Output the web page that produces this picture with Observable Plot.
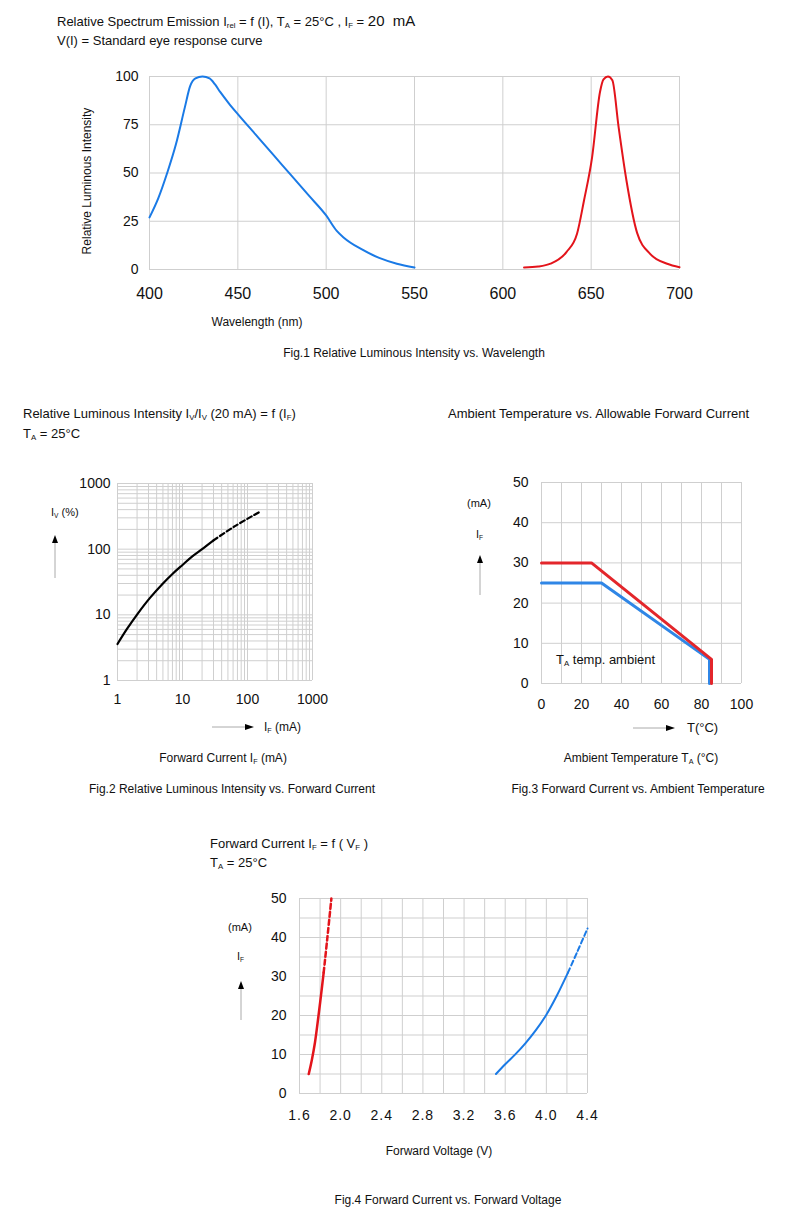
<!DOCTYPE html>
<html><head><meta charset="utf-8">
<script src="https://cdn.jsdelivr.net/npm/d3@7"></script>
<script src="https://cdn.jsdelivr.net/npm/@observablehq/plot@0.6"></script>
<style>
body{margin:0;background:#fff;}
#page{position:relative;width:807px;height:1221px;background:#fff;font-family:"Liberation Sans",Arial,Helvetica,sans-serif;color:#111;overflow:hidden}
.t{position:absolute;white-space:nowrap;line-height:1;color:#111}
.t sub{font-size:0.6em;vertical-align:baseline;position:relative;top:0.3em}
.p{position:absolute}
</style></head><body><div id="page"></div>
<script>
// ---------- data ----------
// Fig.1 relative spectrum
const fig1BlueWl  = [400,405,410,415,420,423,426,430,434,437,440,445,450,460,470,480,490,500,506,510,520,530,540,550];
const fig1BlueVal = [27,37,50,65,84,95,99,100,99,96,92,86,80.5,70,59.5,49,38.5,28,20,16.5,10.5,6,3,1];
const fig1RedWl   = [612,620,627,636,642,646,650.5,655,657,659.5,662,665.5,670,676,683.5,693,700];
const fig1RedVal  = [1,1.5,3,9,18.5,36,58,92,98.5,100,98,74,46,19,8,3,1.2];
const fig1XTicks  = [400,450,500,550,600,650,700];
const fig1YTicks  = [0,25,50,75,100];
// Fig.2 relative luminous intensity vs forward current
const fig2IfSolid = [1,1.4,2,3.16,5,7,10,14,20,30];
const fig2IvSolid = [3.6,6.1,10.1,18.1,30,41.9,57.5,77,100,136];
const fig2IfDash  = [30,63,158];
const fig2IvDash  = [136,222,375];
const fig2Ticks   = [1,10,100,1000];
// Fig.3 forward current vs ambient temperature
const fig3RedT  = [0,25,85,85];
const fig3RedI  = [30,30,6,0];
const fig3BlueT = [0,30,84,84];
const fig3BlueI = [25,25,6,0];
const fig3XTicks = [0,20,40,60,80,100];
const fig3XGrid  = [0,10,20,30,40,50,60,70,80,90,100];
const fig3YTicks = [0,10,20,30,40,50];
// Fig.4 forward current vs forward voltage
const fig4RedSolidV  = [1.69,1.72,1.75,1.785,1.81,1.835];
const fig4RedSolidI  = [5,8.6,13,20,25.4,31];
const fig4RedDashV   = [1.835,1.87,1.91];
const fig4RedDashI   = [31,39.7,50];
const fig4BlueSolidV = [3.51,3.6,3.7,3.8,3.9,4.0,4.1,4.21];
const fig4BlueSolidI = [5,7.5,10.1,13,16.3,20.2,25,31];
const fig4BlueDashV  = [4.21,4.3,4.4];
const fig4BlueDashI  = [31,36.3,42.3];
const fig4XTicks = [1.6,2.0,2.4,2.8,3.2,3.6,4.0,4.4];
const fig4XGrid  = [1.6,1.8,2.0,2.2,2.4,2.6,2.8,3.0,3.2,3.4,3.6,3.8,4.0,4.2,4.4];
const fig4YTicks = [0,10,20,30,40,50];
const fig4YGrid  = [0,5,10,15,20,25,30,35,40,45,50];

// ---------- helpers ----------
const FONT = '"Liberation Sans", Arial, Helvetica, sans-serif';
const GRID = "#cfcfcf";
const page = document.getElementById("page");
const pts = (xs, ys) => xs.map((x, i) => ({x, y: ys[i]}));

function place(svg, left, top) {
  svg.classList.add("p");
  svg.style.left = left + "px";
  svg.style.top = top + "px";
  page.appendChild(svg);
}
function txt(html, x, y, size, anchor = "start", rotate = 0) {
  const d = document.createElement("div");
  d.className = "t";
  d.innerHTML = html;
  d.style.fontSize = size + "px";
  d.style.left = x + "px";
  d.style.top = y + "px";
  const tx = anchor === "middle" ? "-50%" : anchor === "end" ? "-100%" : "0";
  d.style.transform = rotate ? `translate(-50%,-50%) rotate(${rotate}deg)` : `translate(${tx},-55%)`;
  page.appendChild(d);
}
function tickFont(svg, axis, size) {
  const g = svg.querySelector(`g[aria-label="${axis}-axis tick label"]`);
  if (g) g.setAttribute("font-size", size);
  svg.querySelectorAll(`g[aria-label="${axis}-axis tick label"] text`).forEach(t => t.setAttribute("font-size", size));
}

// ---------- Fig.1 ----------
const fig1 = Plot.plot({
  width: 720, height: 250,
  marginLeft: 149, marginRight: 41, marginTop: 16, marginBottom: 41,
  style: {fontFamily: FONT, fontSize: "14px", color: "#111", background: "transparent"},
  x: {domain: [400, 700]},
  y: {domain: [0, 100]},
  marks: [
    Plot.ruleX(fig1XTicks, {stroke: GRID}),
    Plot.ruleY(fig1YTicks, {stroke: GRID}),
    Plot.axisX({ticks: fig1XTicks, tickSize: 0, tickPadding: 18, label: null}),
    Plot.axisY({ticks: fig1YTicks, tickSize: 0, tickPadding: 11, label: null}),
    Plot.line(pts(fig1BlueWl, fig1BlueVal), {x: "x", y: "y", stroke: "#1a7ae6", strokeWidth: 2, curve: "monotone-x"}),
    Plot.line(pts(fig1RedWl, fig1RedVal), {x: "x", y: "y", stroke: "#e3141b", strokeWidth: 2, curve: "monotone-x"})
  ]
});
tickFont(fig1, "x", 16);
place(fig1, 0, 60);
txt('Relative Spectrum Emission I<sub>rel</sub> = f (I), T<sub>A</sub> = 25°C , I<sub>F</sub> = <span style="font-size:15px">20 &nbsp;mA</span>', 57, 21, 13);
txt('V(I) = Standard eye response curve', 57, 41, 13);
txt('Relative Luminous Intensity', 87, 181, 12, "middle", -90);
txt('Wavelength (nm)', 257, 323, 12, "middle");
txt('Fig.1 Relative Luminous Intensity vs. Wavelength', 414, 354, 12, "middle");

// ---------- Fig.2 ----------
const fig2Grid = d3.scaleLog().domain([1, 1000]).ticks();
const fig2 = Plot.plot({
  width: 340, height: 240,
  marginLeft: 117, marginRight: 28, marginTop: 13, marginBottom: 30,
  style: {fontFamily: FONT, fontSize: "14px", color: "#111", background: "transparent"},
  x: {type: "log", domain: [1, 1000]},
  y: {type: "log", domain: [1, 1000]},
  marks: [
    Plot.ruleX(fig2Grid, {stroke: GRID}),
    Plot.ruleY(fig2Grid, {stroke: GRID}),
    Plot.axisX({ticks: fig2Ticks, tickFormat: d3.format("d"), tickSize: 0, tickPadding: 14, label: null}),
    Plot.axisY({ticks: fig2Ticks, tickFormat: d3.format("d"), tickSize: 0, tickPadding: 7, label: null}),
    Plot.line(pts(fig2IfSolid, fig2IvSolid), {x: "x", y: "y", stroke: "#000", strokeWidth: 2.2, curve: "catmull-rom"}),
    Plot.line(pts(fig2IfDash, fig2IvDash), {x: "x", y: "y", stroke: "#000", strokeWidth: 2.2, strokeDasharray: "5,3", curve: "catmull-rom"})
  ]
});
place(fig2, 0, 470);
txt('Relative Luminous Intensity I<sub>V</sub>/I<sub>V</sub> (20 mA) = f (I<sub>F</sub>)', 23, 414, 13);
txt('T<sub>A</sub> = 25°C', 23, 434, 13);
txt('I<sub>V</sub> (%)', 51, 513, 11);
txt('I<sub>F</sub> (mA)', 264, 728, 12);
txt('Forward Current I<sub>F</sub> (mA)', 223, 759, 12, "middle");
txt('Fig.2 Relative Luminous Intensity vs. Forward Current', 232, 790, 12, "middle");

// ---------- Fig.3 ----------
const fig3 = Plot.plot({
  width: 300, height: 250,
  marginLeft: 71, marginRight: 29, marginTop: 17, marginBottom: 32,
  style: {fontFamily: FONT, fontSize: "14px", color: "#111", background: "transparent"},
  x: {domain: [0, 100]},
  y: {domain: [0, 50]},
  marks: [
    Plot.ruleX(fig3XGrid, {stroke: GRID}),
    Plot.ruleY(fig3YTicks, {stroke: GRID}),
    Plot.axisX({ticks: fig3XTicks, tickSize: 0, tickPadding: 16, label: null}),
    Plot.axisY({ticks: fig3YTicks, tickSize: 0, tickPadding: 13, label: null}),
    Plot.line(pts(fig3BlueT, fig3BlueI), {x: "x", y: "y", stroke: "#2f86e6", strokeWidth: 3}),
    Plot.line(pts(fig3RedT, fig3RedI), {x: "x", y: "y", stroke: "#e3262b", strokeWidth: 3})
  ]
});
place(fig3, 470, 465);
txt('Ambient Temperature vs. Allowable Forward Current', 448, 414, 13);
txt('(mA)', 467, 504, 11);
txt('I<sub>F</sub>', 476, 535, 11);
txt('T<sub>A</sub> temp. ambient', 556, 660, 13);
txt('T(°C)', 687, 728, 13);
txt('Ambient Temperature T<sub>A</sub> (°C)', 641, 759, 12, "middle");
txt('Fig.3 Forward Current vs. Ambient Temperature', 638, 790, 12, "middle");

// ---------- Fig.4 ----------
const fig4 = Plot.plot({
  width: 420, height: 250,
  marginLeft: 99, marginRight: 33, marginTop: 13, marginBottom: 42,
  style: {fontFamily: FONT, fontSize: "14px", color: "#111", background: "transparent"},
  x: {domain: [1.6, 4.4]},
  y: {domain: [0, 50]},
  marks: [
    Plot.ruleX(fig4XGrid, {stroke: GRID}),
    Plot.ruleY(fig4YGrid, {stroke: GRID}),
    Plot.axisX({ticks: fig4XTicks, tickFormat: d3.format(".1f"), tickSize: 0, tickPadding: 17, label: null}),
    Plot.axisY({ticks: fig4YTicks, tickSize: 0, tickPadding: 13, label: null}),
    Plot.line(pts(fig4RedSolidV, fig4RedSolidI), {x: "x", y: "y", stroke: "#e3141b", strokeWidth: 2.5, curve: "catmull-rom"}),
    Plot.line(pts(fig4RedDashV, fig4RedDashI), {x: "x", y: "y", stroke: "#e3141b", strokeWidth: 2.5, strokeDasharray: "5,3", curve: "catmull-rom"}),
    Plot.line(pts(fig4BlueSolidV, fig4BlueSolidI), {x: "x", y: "y", stroke: "#1a7ae6", strokeWidth: 2, curve: "catmull-rom"}),
    Plot.line(pts(fig4BlueDashV, fig4BlueDashI), {x: "x", y: "y", stroke: "#1a7ae6", strokeWidth: 2, strokeDasharray: "5,3", curve: "catmull-rom"})
  ]
});
fig4.querySelectorAll('g[aria-label="x-axis tick label"] text').forEach(t => t.setAttribute("letter-spacing", "1"));
place(fig4, 200, 885);
txt('Forward Current I<sub>F</sub> = f ( V<sub>F</sub> )', 210, 844, 13);
txt('T<sub>A</sub> = 25°C', 210, 863, 13);
txt('(mA)', 228, 928, 11);
txt('I<sub>F</sub>', 237, 957, 11);
txt('Forward Voltage (V)', 439, 1152, 12, "middle");
txt('Fig.4 Forward Current vs. Forward Voltage', 448, 1201, 12, "middle");

// ---------- decorative arrows ----------
const NS = "http://www.w3.org/2000/svg";
const ov = document.createElementNS(NS, "svg");
ov.setAttribute("width", 807); ov.setAttribute("height", 1221);
ov.setAttribute("class", "p"); ov.style.left = "0px"; ov.style.top = "0px"; ov.style.pointerEvents = "none";
page.appendChild(ov);
function arrowUp(x, yTop, yBot) {
  const l = document.createElementNS(NS, "line");
  l.setAttribute("x1", x); l.setAttribute("x2", x); l.setAttribute("y1", yTop + 6); l.setAttribute("y2", yBot);
  l.setAttribute("stroke", "#aaa"); l.setAttribute("stroke-width", 1);
  const p = document.createElementNS(NS, "polygon");
  p.setAttribute("points", `${x},${yTop} ${x - 3},${yTop + 8} ${x + 3},${yTop + 8}`);
  p.setAttribute("fill", "#000");
  ov.appendChild(l); ov.appendChild(p);
}
function arrowRight(xLeft, xRight, y) {
  const l = document.createElementNS(NS, "line");
  l.setAttribute("x1", xLeft); l.setAttribute("x2", xRight - 6); l.setAttribute("y1", y); l.setAttribute("y2", y);
  l.setAttribute("stroke", "#aaa"); l.setAttribute("stroke-width", 1);
  const p = document.createElementNS(NS, "polygon");
  p.setAttribute("points", `${xRight},${y} ${xRight - 9},${y - 3} ${xRight - 9},${y + 3}`);
  p.setAttribute("fill", "#000");
  ov.appendChild(l); ov.appendChild(p);
}
arrowUp(55, 535, 578);
arrowRight(212, 254, 727);
arrowUp(480, 555, 595);
arrowRight(633, 675, 728);
arrowUp(241, 981, 1020);
</script></body></html>
